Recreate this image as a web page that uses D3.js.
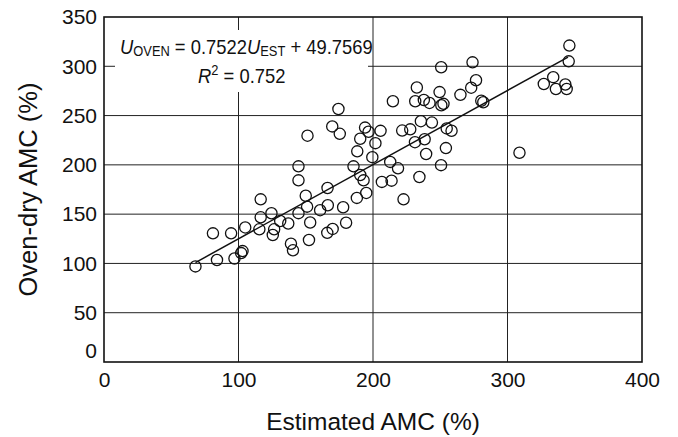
<!DOCTYPE html>
<html>
<head>
<meta charset="utf-8">
<script src="https://cdn.jsdelivr.net/npm/d3@7"></script>
<style>
  body { margin: 0; background: #fff; }
  text { font-family: "Liberation Sans", Arial, sans-serif; fill: #111; }
</style>
</head>
<body>
<div id="chart"></div>
<script>
// Estimated AMC (%) vs oven-dry AMC (%)
const estAMC = [68, 81, 84, 94.5, 97, 102, 103, 105, 115.5, 116.5, 116.5, 124.5, 126.5, 125.5, 131, 137, 139, 140.5,
  144.6, 144.6, 144.6, 150, 151, 151.3, 152.4, 153.3, 160.7, 166.2, 166.4, 166, 170, 169.7, 174.3, 175.3, 177.8, 180,
  185.5, 188, 188.3, 190.5, 190.5, 193, 194.1, 195, 196.7, 199.5, 201.8, 205.6, 206.6, 212.8, 213.8, 214.8, 218.6,
  221.7, 222.7, 227.7, 231.2, 231.4, 232.6, 234.5, 235.6, 237.8, 238.4, 239.5, 242, 243.8, 249.5, 250.6, 250.7,
  250.8, 252.4, 254.2, 254.8, 258.4, 265, 273, 274, 276.6, 280.5, 282, 308.9, 327, 334, 336, 343, 344, 345.5, 346];
const ovenAMC = [97, 130.5, 103.5, 130.5, 105, 110.5, 112.5, 136.5, 134.6, 146.8, 165, 150.9, 134.6, 128.8, 143, 140.5, 120, 113.3,
  184.3, 198.5, 151, 168.7, 157.6, 229.6, 123.8, 141.5, 154, 176.5, 159, 131, 135, 239, 256.7, 231.5, 157, 141.3,
  198.5, 166.5, 213.7, 226.5, 189.7, 184.3, 237.8, 171.5, 233.6, 207.8, 222, 234.5, 182.7, 203, 184, 264.5, 196.5,
  234.8, 165, 236, 223, 264.5, 278.5, 187.7, 244.3, 265.8, 226, 211, 262.8, 242.9, 273.8, 199.7, 299,
  260.5, 261.9, 217, 237, 234.6, 271, 278.3, 304, 285.8, 265, 263.5, 212.3, 282, 289, 277, 281.5, 277, 305, 321];

// fitted line endpoints (U_OVEN = 0.7522 U_EST + 49.7569)
const fitX = [68, 345];
const fitY = [100.9, 309.3];

const xTicks = [0, 100, 200, 300, 400];
const yTicks = [0, 50, 100, 150, 200, 250, 300, 350];

const width = 678, height = 437;
const margin = {top: 17, right: 36, bottom: 75, left: 104};
const innerW = width - margin.left - margin.right;
const innerH = height - margin.top - margin.bottom;

const svg = d3.select('#chart').append('svg')
    .attr('width', width)
    .attr('height', height);

const g = svg.append('g')
    .attr('transform', `translate(${margin.left},${margin.top})`);

const x = d3.scaleLinear().domain([0, 400]).range([0, innerW]);
const y = d3.scaleLinear().domain([0, 350]).range([innerH, 0]);

// gridlines
g.append('g').selectAll('line.vgrid')
    .data(xTicks.slice(1, -1))
  .join('line')
    .attr('x1', d => x(d)).attr('x2', d => x(d))
    .attr('y1', 0).attr('y2', innerH)
    .attr('stroke', '#222').attr('stroke-width', 1);

g.append('g').selectAll('line.hgrid')
    .data(yTicks.slice(1, -1))
  .join('line')
    .attr('x1', 0).attr('x2', innerW)
    .attr('y1', d => y(d)).attr('y2', d => y(d))
    .attr('stroke', '#222').attr('stroke-width', 1);

// white patch behind the equation
g.append('rect')
    .attr('x', 11).attr('y', 13)
    .attr('width', 253).attr('height', 62)
    .attr('fill', '#fff');

// axes, labels only
const xAxis = d3.axisBottom(x).tickValues(xTicks).tickSize(0).tickPadding(10);
const yAxis = d3.axisLeft(y).tickValues(yTicks).tickSize(0).tickPadding(7);

const xAxisG = g.append('g')
    .attr('transform', `translate(0,${innerH})`)
    .call(xAxis);
const yAxisG = g.append('g').call(yAxis);

[xAxisG, yAxisG].forEach(a => {
  a.select('.domain').remove();
  a.selectAll('text')
      .style('font-size', '21px')
      .style('font-family', '"Liberation Sans", Arial, sans-serif')
      .attr('fill', '#111');
});
// the y "0" sits raised above the corner
yAxisG.selectAll('.tick text').filter(d => d === 0).attr('dy', '-0.2em');

// frame
g.append('rect')
    .attr('width', innerW).attr('height', innerH)
    .attr('fill', 'none')
    .attr('stroke', '#111').attr('stroke-width', 1.6);

// fit line
g.append('line')
    .attr('x1', x(fitX[0])).attr('y1', y(fitY[0]))
    .attr('x2', x(fitX[1])).attr('y2', y(fitY[1]))
    .attr('stroke', '#111').attr('stroke-width', 1.5);

// points
g.append('g').selectAll('circle')
    .data(d3.zip(estAMC, ovenAMC))
  .join('circle')
    .attr('cx', d => x(d[0]))
    .attr('cy', d => y(d[1]))
    .attr('r', 5.6)
    .attr('fill', 'none')
    .attr('stroke', '#111')
    .attr('stroke-width', 1.3);

// equation (the original font is a bit narrower, so squeeze it horizontally)
const eq = svg.append('text')
    .attr('transform', 'translate(120,54) scale(0.92,1)')
    .style('font-size', '20px');
eq.append('tspan').attr('font-style', 'italic').text('U');
eq.append('tspan').style('font-size', '14px').attr('dy', 2).text('OVEN');
eq.append('tspan').attr('dy', -2).text(' = 0.7522');
eq.append('tspan').attr('font-style', 'italic').text('U');
eq.append('tspan').style('font-size', '14px').attr('dy', 2).text('EST');
eq.append('tspan').attr('dy', -2).text(' + 49.7569');

const r2 = svg.append('text')
    .attr('transform', 'translate(198,83) scale(0.92,1)')
    .style('font-size', '20px');
r2.append('tspan').attr('font-style', 'italic').text('R');
r2.append('tspan').style('font-size', '14px').attr('dy', -8).text('2');
r2.append('tspan').attr('dy', 8).text(' = 0.752');

// axis titles
svg.append('text')
    .attr('x', margin.left + innerW / 2)
    .attr('y', 430)
    .attr('text-anchor', 'middle')
    .style('font-size', '24.5px')
    .text('Estimated AMC (%)');

svg.append('text')
    .attr('transform', `translate(37,${margin.top + innerH / 2}) rotate(-90)`)
    .attr('text-anchor', 'middle')
    .style('font-size', '25.5px')
    .text('Oven-dry AMC (%)');
</script>
</body>
</html>
